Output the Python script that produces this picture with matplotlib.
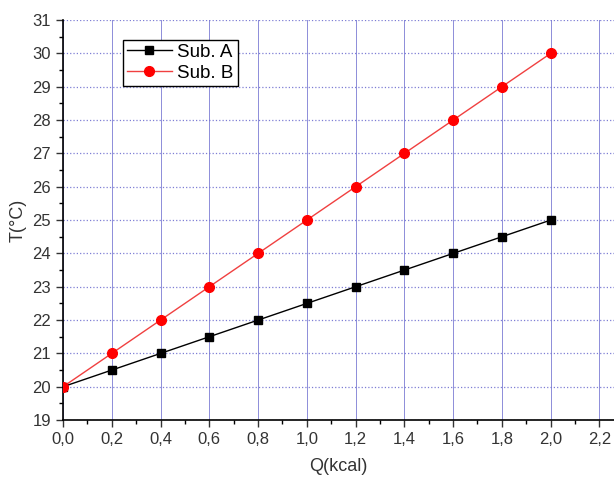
import matplotlib
matplotlib.use('Agg')
import matplotlib.pyplot as plt
from matplotlib.ticker import MultipleLocator, FuncFormatter

plt.rcParams['font.family'] = ['Liberation Sans', 'DejaVu Sans']

# 数据
q = [0.0, 0.2, 0.4, 0.6, 0.8, 1.0, 1.2, 1.4, 1.6, 1.8, 2.0]
t_a = [20, 20.5, 21, 21.5, 22, 22.5, 23, 23.5, 24, 24.5, 25]
t_b = [20, 21, 22, 23, 24, 25, 26, 27, 28, 29, 30]

fig = plt.figure(figsize=(6.14, 4.79), dpi=100)
ax = fig.add_axes([0.1026, 0.123, 0.8974, 0.835])

ax.plot(q, t_a, color='black', marker='s', markersize=6, linewidth=1, label='Sub. A', zorder=3)
ax.plot(q, t_b, color='#f04040', marker='o', markersize=7, markerfacecolor='red',
        markeredgecolor='red', linewidth=1, label='Sub. B', zorder=3)

ax.set_xlim(0, 2.26)
ax.set_ylim(19, 31)
ax.xaxis.set_major_locator(MultipleLocator(0.2))
ax.xaxis.set_minor_locator(MultipleLocator(0.1))
ax.yaxis.set_major_locator(MultipleLocator(1))
ax.yaxis.set_minor_locator(MultipleLocator(0.5))
ax.xaxis.set_major_formatter(FuncFormatter(lambda v, p: f'{v:.1f}'.replace('.', ',')))

ax.xaxis.grid(True, color='#7070d0', linewidth=0.7, alpha=0.8)
ax.yaxis.grid(True, color='#7070d0', linewidth=0.9, linestyle=':', alpha=0.9)
ax.set_axisbelow(True)

ax.spines['top'].set_visible(False)
ax.spines['right'].set_visible(False)
ax.spines['left'].set_linewidth(1.2)
ax.spines['bottom'].set_linewidth(1.2)
ax.tick_params(which='major', direction='out', length=5, width=1, labelsize=12, colors='#333333')
ax.tick_params(which='minor', direction='out', length=3, width=1)

ax.set_xlabel('Q(kcal)', fontsize=13, color='#333333', labelpad=8)
ax.set_ylabel('T(°C)', fontsize=13, color='#333333')

leg = ax.legend(loc='upper left', bbox_to_anchor=(0.109, 0.95), fontsize=13.5, fancybox=False,
                edgecolor='black', framealpha=1, borderpad=0.2, handlelength=2.4,
                handletextpad=0.3, labelspacing=0.2, borderaxespad=0)
leg.get_frame().set_linewidth(1)

fig.savefig('out.png', dpi=100)
plt.close()
